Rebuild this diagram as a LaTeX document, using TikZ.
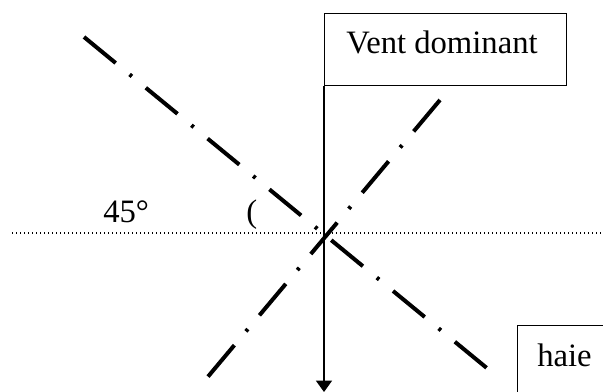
\documentclass[tikz,border=0pt]{standalone}
\usepackage{fontspec}
\setmainfont{Liberation Serif}
\usetikzlibrary{arrows.meta}
\begin{document}
\begin{tikzpicture}[x=0.75pt,y=-0.75pt,
  txt/.style={font=\fontsize{24.5}{28}\selectfont, inner sep=0pt},
  boxed/.style={draw, line width=1.1pt, rectangle, inner sep=0pt},
  axisline/.style={line width=3pt, dash pattern=on 30.75pt off 13.5pt on 2.25pt off 13.5pt},
  dotline/.style={line width=1.1pt, dash pattern=on 1.1pt off 1.9pt},
  windarrow/.style={line width=1pt, -{Triangle[width=12pt,length=8.5pt]}}]
\useasboundingbox (0,0) rectangle (603,392);
\clip (0,0) rectangle (603,392);
% horizontal dotted reference line
\coordinate (hl) at (12,233);
\coordinate (hr) at (603,233);
\draw[dotline] (hl) -- (hr);
% boxes
\node[boxed, anchor=north west, minimum width=181.5pt, minimum height=54pt] (vent) at (324,13) {};
\node[txt, anchor=base west] (ventlabel) at (346,54) {Vent dominant};
\node[boxed, anchor=north west, minimum width=90pt, minimum height=60pt] (haiebox) at (517,325) {};
\node[txt, anchor=base west] (haie) at (537,366) {haie};
% dash-dot lines
\coordinate (a1) at (84,37);
\coordinate (a2) at (488,369);
\coordinate (b1) at (440,100);
\coordinate (b2) at (206,379);
\draw[axisline] (a1) -- (a2);
\draw[axisline] (b1) -- (b2);
% wind arrow
\coordinate (tip) at (324,392);
\draw[windarrow] (vent.south west) -- (tip);
% labels
\node[txt, anchor=base west] (deg) at (103,222) {45°};
\node[txt, anchor=base west] (paren) at (246,222) {(};
\end{tikzpicture}
\end{document}
